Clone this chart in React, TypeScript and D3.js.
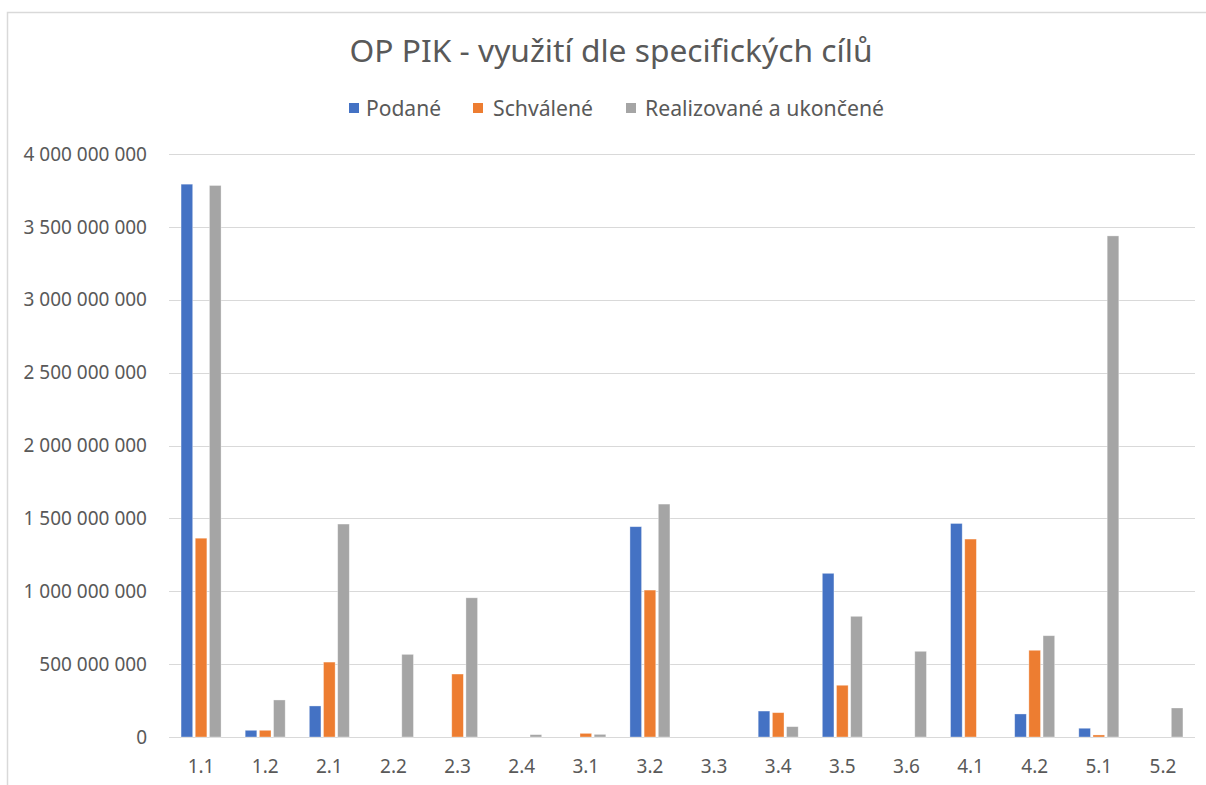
import React from "react";
import * as d3 from "d3";

const categories = ["1.1", "1.2", "2.1", "2.2", "2.3", "2.4", "3.1", "3.2", "3.3", "3.4", "3.5", "3.6", "4.1", "4.2", "5.1", "5.2"];
const seriesNames = ["Podané", "Schválené", "Realizované a ukončené"];
const podane = [3793e6, 46e6, 213e6, 0, 0, 0, 0, 1443e6, 0, 178e6, 1123e6, 0, 1465e6, 158e6, 60e6, 0];
const schvalene = [1364e6, 46e6, 514e6, 0, 432e6, 0, 25e6, 1008e6, 0, 167e6, 355e6, 0, 1358e6, 595e6, 14e6, 0];
const realizovane = [3784e6, 254e6, 1461e6, 567e6, 955e6, 16e6, 18e6, 1598e6, 0, 71e6, 828e6, 588e6, 0, 695e6, 3438e6, 199e6];
const yTicks = [0, 500e6, 1000e6, 1500e6, 2000e6, 2500e6, 3000e6, 3500e6, 4000e6];
const title = "OP PIK - využití dle specifických cílů";

const colors = ["#4472C4", "#ED7D31", "#A5A5A5"];
const FONT = "'Noto Sans', 'Open Sans', sans-serif";
const TEXT = "#595959";

export default function App() {
  const W = 1206, H = 785;
  const left = 169, right = 1195, top = 154, bottom = 737;
  const series = [podane, schvalene, realizovane];

  const x0 = d3.scaleBand<string>().domain(categories).range([left, right]).paddingInner(0).paddingOuter(0);
  const groupW = 40;
  const x1 = d3.scaleBand<string>().domain(seriesNames).range([0, groupW]).paddingInner(0.18);
  const y = d3.scaleLinear().domain([0, 4000e6]).range([bottom, top]);
  const fmt = (v: number) => d3.format(",")(v).replace(/,/g, " ");
  const off = (x0.bandwidth() - groupW) / 2;

  const legendSquares = [349, 473, 626];
  const legendText = [366, 493, 645];
  const legendLen = [75, 100, 239];

  return (
    <svg width={W} height={H} style={{ position: "absolute", left: 0, top: 0, background: "#fff" }} fontFamily={FONT}>
      <rect x={0} y={0} width={W} height={H} fill="#fff" />
      <rect x={7.5} y={12.5} width={W + 10} height={H + 10} fill="none" stroke="#d9d9d9" strokeWidth={1.5} />
      <text x={611} y={62} textAnchor="middle" fontSize={30} fill={TEXT} textLength={523} lengthAdjust="spacingAndGlyphs">{title}</text>
      {seriesNames.map((s, i) => (
        <g key={s}>
          <rect x={legendSquares[i]} y={103} width={10} height={10} fill={colors[i]} />
          <text x={legendText[i]} y={116} fontSize={21} fill={TEXT} textLength={legendLen[i]} lengthAdjust="spacingAndGlyphs">{s}</text>
        </g>
      ))}
      {yTicks.map((t) => (
        <g key={t}>
          <line x1={left} x2={right} y1={Math.round(y(t)) + 0.5} y2={Math.round(y(t)) + 0.5} stroke="#d9d9d9" strokeWidth={1} />
          <text x={147} y={y(t)} dy="0.35em" textAnchor="end" fontSize={19} fill={TEXT}>{fmt(t)}</text>
        </g>
      ))}
      {categories.map((c, ci) => (
        <g key={c}>
          {series.map((vals, si) => {
            const v = vals[ci];
            if (!v) return null;
            const bx = (x0(c) as number) + off + (x1(seriesNames[si]) as number);
            return (
              <rect key={si} x={bx} y={y(v)} width={x1.bandwidth()} height={bottom - y(v)} fill={colors[si]} stroke="#ffffff" strokeOpacity={0.45} strokeWidth={0.75} />
            );
          })}
          <text x={(x0(c) as number) + x0.bandwidth() / 2} y={773} textAnchor="middle" fontSize={19} fill={TEXT}>{c}</text>
        </g>
      ))}
    </svg>
  );
}
